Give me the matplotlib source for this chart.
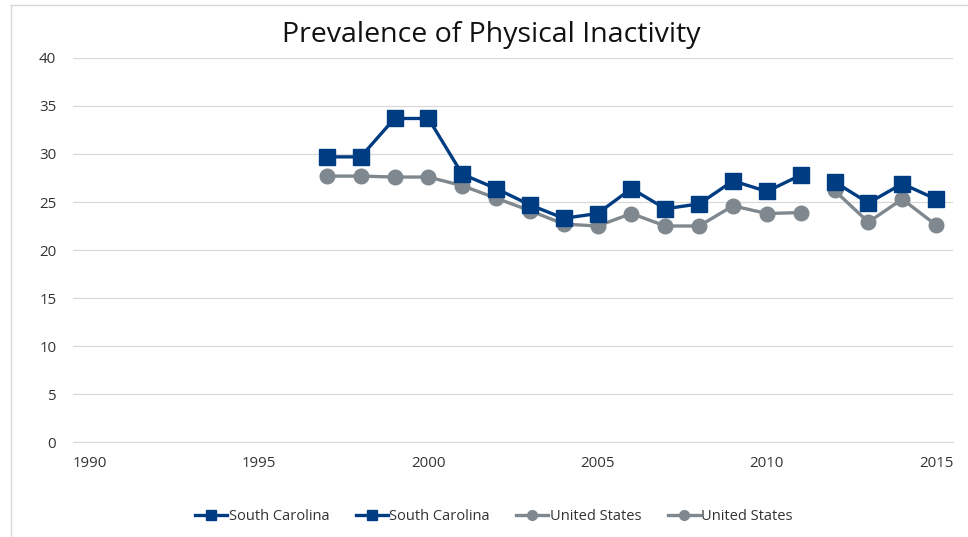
import numpy as np
import matplotlib.pyplot as plt
from matplotlib.lines import Line2D

# Datos
anios_a = [1997, 1998, 1999, 2000, 2001, 2002, 2003, 2004, 2005, 2006,
           2007, 2008, 2009, 2010, 2011]
sc_a = [29.7, 29.7, 33.7, 33.7, 27.9, 26.4, 24.7, 23.3, 23.8, 26.4,
        24.3, 24.8, 27.2, 26.1, 27.8]
us_a = [27.7, 27.7, 27.6, 27.6, 26.7, 25.4, 24.1, 22.7, 22.5, 23.8,
        22.5, 22.5, 24.6, 23.8, 23.9]

anios_b = [2012, 2013, 2014, 2015]
sc_b = [27.1, 24.9, 26.9, 25.3]
us_b = [26.2, 22.9, 25.3, 22.6]

etiquetas = ["South Carolina", "South Carolina", "United States", "United States"]
x_ticks = [1990, 1995, 2000, 2005, 2010, 2015]
y_ticks = [0, 5, 10, 15, 20, 25, 30, 35, 40]

AZUL = "#003C82"
GRIS = "#7F888E"

plt.rcParams["font.family"] = ["Open Sans", "DejaVu Sans"]

fig = plt.figure(figsize=(9.68, 5.37), dpi=100)
ax = fig.add_axes([73 / 968, 1 - 442 / 537, 880 / 968, 384 / 537])

estilo_sc = dict(color=AZUL, lw=2.4, marker="s", ms=11.5, mec=AZUL, zorder=4)
estilo_us = dict(color=GRIS, lw=2.4, marker="o", ms=10.5, mec=GRIS, zorder=3)

ax.plot(anios_a, us_a, label=etiquetas[2], **estilo_us)
ax.plot(anios_b, us_b, label=etiquetas[3], **estilo_us)
ax.plot(anios_a, sc_a, label=etiquetas[0], **estilo_sc)
ax.plot(anios_b, sc_b, label=etiquetas[1], **estilo_sc)

ax.set_xlim(1989.5, 2015.5)
ax.set_ylim(0, 40)
ax.set_xticks(x_ticks)
ax.set_yticks(y_ticks)
ax.grid(axis="y", color="#D9D9D9", lw=0.9)
ax.set_axisbelow(True)
for s in ["top", "right", "left"]:
    ax.spines[s].set_visible(False)
ax.spines["bottom"].set_color("#D9D9D9")
ax.tick_params(axis="both", length=0, labelsize=10.8, colors="#333333")
ax.tick_params(axis="x", pad=10)
ax.tick_params(axis="y", pad=12)

# titulo centrado sobre el area del grafico
fig.text(491 / 968, 1 - 35 / 537, "Prevalence of Physical Inactivity",
         fontsize=20.5, color="#111111", ha="center", va="center")

# leyenda en el orden de la referencia
manejadores = [
    Line2D([], [], color=AZUL, lw=2.4, marker="s", ms=7),
    Line2D([], [], color=AZUL, lw=2.4, marker="s", ms=7),
    Line2D([], [], color=GRIS, lw=2.4, marker="o", ms=7),
    Line2D([], [], color=GRIS, lw=2.4, marker="o", ms=7),
]
fig.legend(manejadores, etiquetas, loc="center", bbox_to_anchor=(494 / 968, 1 - 517 / 537),
           ncol=4, frameon=False, fontsize=10.5, handlelength=2.2, handletextpad=0.1,
           columnspacing=1.8, labelcolor="#333333")

# marco del grafico
fig.add_artist(Line2D([11 / 968, 11 / 968], [0, 1 - 5 / 537], color="#D9D9D9", lw=1))
fig.add_artist(Line2D([11 / 968, 1], [1 - 5 / 537, 1 - 5 / 537], color="#D9D9D9", lw=1))

fig.savefig("out.png", dpi=100)
